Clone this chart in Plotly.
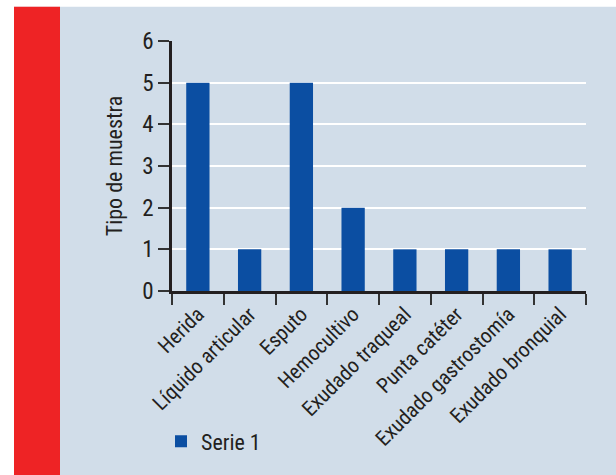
import plotly.graph_objects as go

categories = ["Herida", "Líquido articular", "Esputo", "Hemocultivo",
              "Exudado traqueal", "Punta catéter", "Exudado gastrostomía",
              "Exudado bronquial"]
values = [5, 1, 5, 2, 1, 1, 1, 1]
series_name = "Serie 1"
y_title = "Tipo de muestra"

W, H = 616, 475
L, R, T, B = 172, 30, 41, 178
pw, ph = W - L - R, H - T - B

def px(x):
    return (x - L) / pw

def py(y):
    return (H - B - y) / ph

FONT = "Liberation Sans Narrow, Roboto Condensed, Arial Narrow, DejaVu Sans Condensed, sans-serif"
TXT = "#231f20"
BG = "#d1dde9"

fig = go.Figure(go.Bar(
    x=categories, y=values, name=series_name,
    marker=dict(color="#0b4ea2", line=dict(width=0)),
    showlegend=True,
))

fig.update_layout(
    width=W, height=H,
    margin=dict(l=L, r=R, t=T, b=B),
    paper_bgcolor=BG,
    plot_bgcolor="rgba(0,0,0,0)",
    bargap=0.55,
    font=dict(family=FONT, color=TXT, size=22),
    showlegend=True,
    legend=dict(x=px(161), xanchor="left", y=py(451), yanchor="middle",
                font=dict(size=22, family=FONT, color=TXT),
                bgcolor="rgba(0,0,0,0)"),
    shapes=[
        dict(type="rect", xref="paper", yref="paper", layer="below",
             x0=px(-20), x1=px(W + 20), y0=py(-20), y1=py(H + 20),
             fillcolor=BG, line=dict(width=0)),
        dict(type="rect", xref="paper", yref="paper", layer="below",
             x0=px(-20), x1=px(W + 20), y0=py(-20), y1=py(6),
             fillcolor="white", line=dict(width=0)),
        dict(type="rect", xref="paper", yref="paper", layer="below",
             x0=px(-20), x1=px(14), y0=py(-20), y1=py(H + 20),
             fillcolor="white", line=dict(width=0)),
        dict(type="rect", xref="paper", yref="paper", layer="below",
             x0=px(14), x1=px(60), y0=py(6), y1=py(H + 20),
             fillcolor="#ee2325", line=dict(width=0)),
    ],
)

fig.update_xaxes(
    tickangle=-45, tickson="boundaries", ticks="outside", ticklen=11,
    tickwidth=2, tickcolor="#333", showline=True, linecolor="#231f20",
    linewidth=2.5, showgrid=False, tickfont=dict(size=21, family=FONT, color=TXT),
)
fig.update_yaxes(
    range=[0, 6], dtick=1, ticks="outside", ticklen=11, tickwidth=2,
    tickcolor="#333", showline=True, linecolor="#231f20", linewidth=2.5,
    showgrid=True, gridcolor="white", gridwidth=2, zeroline=False,
    tickfont=dict(size=23, family=FONT, color=TXT),
    title=dict(text=y_title, font=dict(size=22, family=FONT, color=TXT), standoff=14),
)

fig.write_html("out.html")
